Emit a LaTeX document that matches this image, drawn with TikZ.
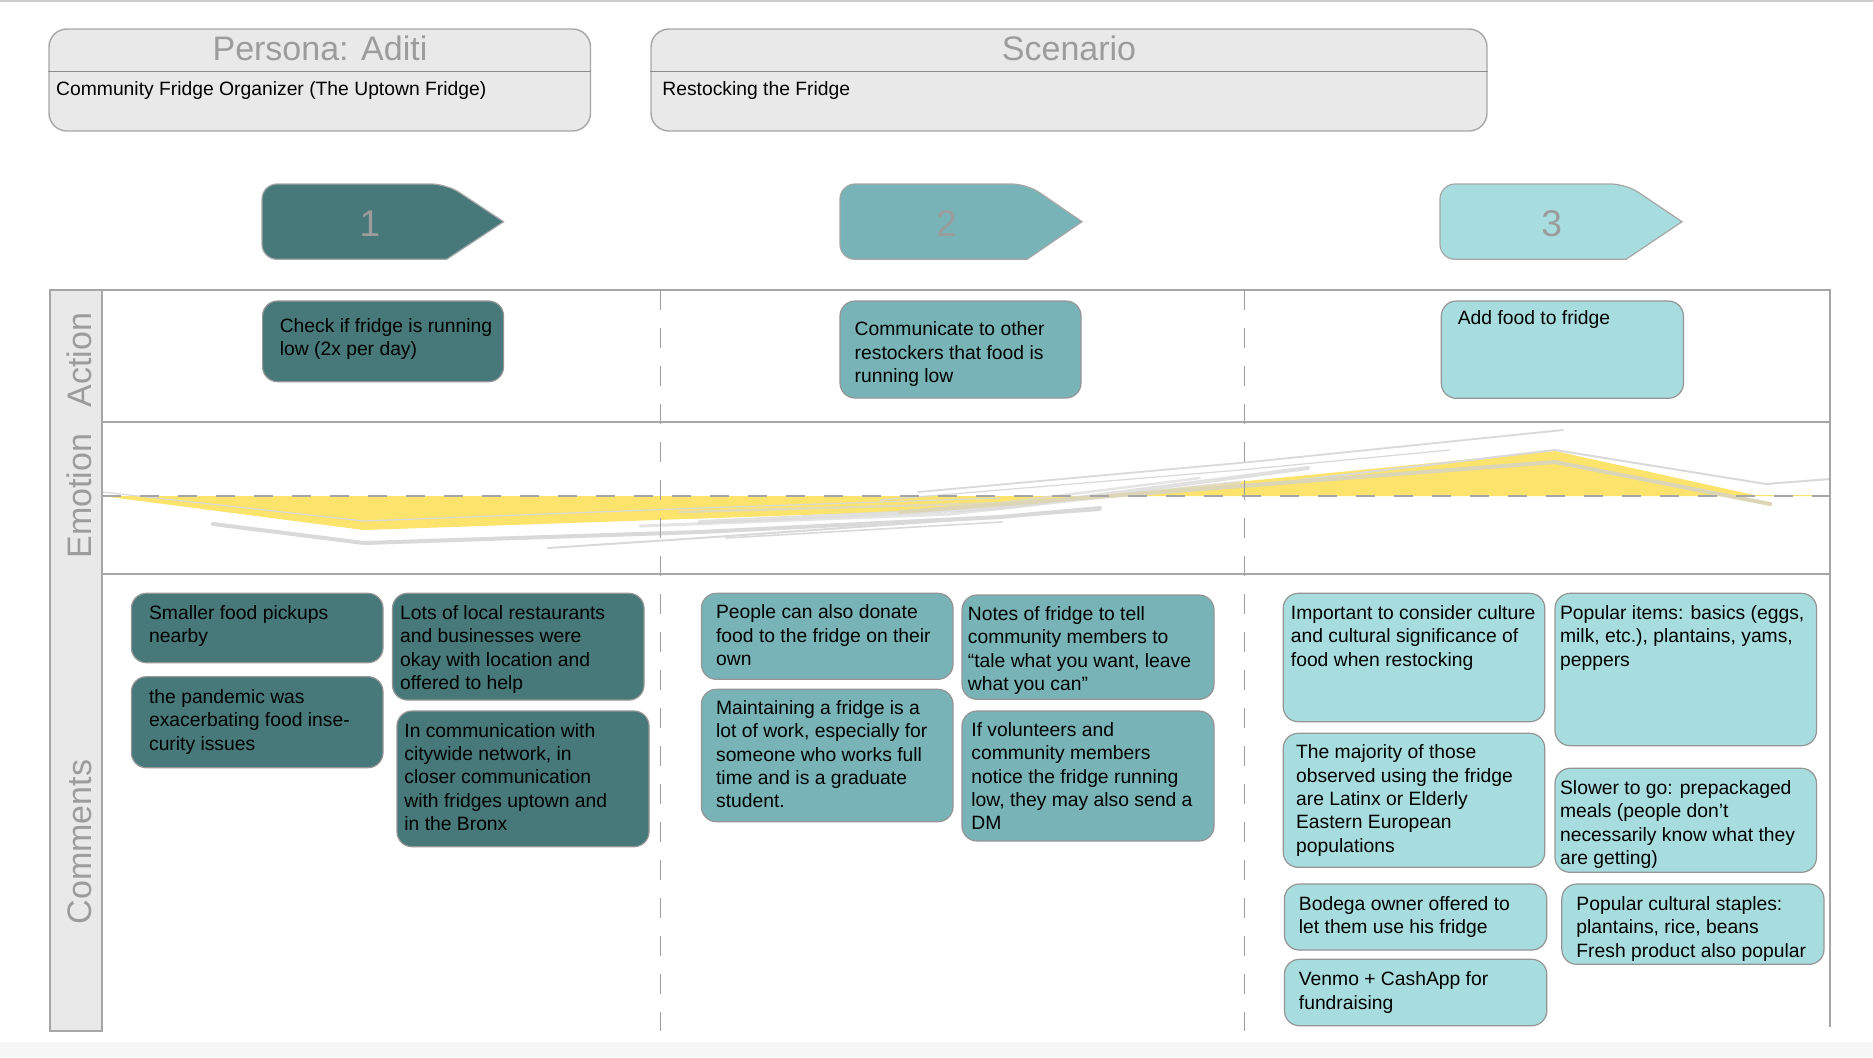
\documentclass[tikz,border=0pt]{standalone}
\usepackage{fontspec}
\setmainfont{Liberation Sans}
\usetikzlibrary{fit}
\definecolor{tdark}{HTML}{47787A}
\definecolor{tmid}{HTML}{78B4B7}
\definecolor{tlight}{HTML}{A8DDE0}
\definecolor{lblgray}{HTML}{9C9C9C}
\definecolor{linegray}{HTML}{A6A6A6}
\definecolor{boxborder}{HTML}{959595}
\definecolor{panelgray}{HTML}{E9E9E9}
\definecolor{emoyellow}{HTML}{FCE36B}
\definecolor{sketch}{HTML}{D9D9D9}
\definecolor{sketchy}{HTML}{DCD6B6}
\definecolor{bottomstrip}{HTML}{F7F7F7}
\tikzset{
  cbox/.style={draw=boxborder, line width=0.6pt, rounded corners=7.5pt, inner sep=0pt},
  darkbox/.style={cbox, fill=tdark},
  midbox/.style={cbox, fill=tmid},
  lightbox/.style={cbox, fill=tlight},
  panel/.style={draw=linegray, line width=0.7pt, fill=panelgray, rounded corners=9pt, inner sep=0pt},
  txt/.style={inner sep=0pt, anchor=north west, align=left, yshift=7.72pt,
    font=\fontsize{9.65pt}{11.65pt}\selectfont, text=black},
  ttl/.style={inner sep=0pt, anchor=base, text=lblgray, font=\fontsize{17pt}{20pt}\selectfont},
  num/.style={inner sep=0pt, anchor=base, text=lblgray, font=\fontsize{18.6pt}{22pt}\selectfont},
  gridline/.style={draw=linegray, line width=1pt},
  vdash/.style={draw=lblgray, line width=0.7pt, dash pattern=on 10pt off 9pt},
  chev/.style={draw=linegray, line width=0.6pt},
  skl/.style={draw=sketch, line cap=round, line join=round},
}
\newcommand\mybox[6]{\node[#2, fit={(#3,#4) (#5,#6)}] (#1) {};}
\newcommand\mytext[4]{\node[txt] (#1) at (#2,#3) {\rule{0pt}{7.72pt}#4};}
\begin{document}
\begin{tikzpicture}[x=0.5pt, y=-0.5pt]
\useasboundingbox (0,0) rectangle (1873,1057);
\fill[white] (0,0) rectangle (1873,1057);
\fill[bottomstrip] (0,1042) rectangle (1873,1057);
\draw[draw=black!20, line width=1pt] (0,1) -- (1873,1);

% header panels
\node[panel, fit={(49,29) (590.5,131)}] (persona) {};
\draw[draw=black!45, line width=0.7pt] (persona.west |- 0,71.5) -- (persona.east |- 0,71.5);
\node[ttl] (personattl) at (320,60) {Persona: Aditi};
\node[txt] (personasub) at (55.8,95.3) {\rule{0pt}{7.72pt}Community Fridge Organizer (The Uptown Fridge)};
\node[panel, fit={(651,29) (1487,131)}] (scenario) {};
\draw[draw=black!45, line width=0.7pt] (scenario.west |- 0,71.5) -- (scenario.east |- 0,71.5);
\node[ttl] (scenariottl) at (1069,60) {Scenario};
\node[txt] (scenariosub) at (662,95.3) {\rule{0pt}{7.72pt}Restocking the Fridge};

% chevrons
\path[chev, fill=tdark] (503.6,221.7) -- (446.6,259.3)
  {[rounded corners=7.5pt] -- (262,259.3) -- (262,184) -- (446.6,184)} -- cycle;
\node[num] (n1) at (370,236) {1};
\path[chev, fill=tmid] (1082,221.7) -- (1027,259.3)
  {[rounded corners=7.5pt] -- (840,259.3) -- (840,184) -- (1027,184)} -- cycle;
\node[num] (n2) at (946.5,236) {2};
\path[chev, fill=tlight] (1682,221.7) -- (1626,259.3)
  {[rounded corners=7.5pt] -- (1440,259.3) -- (1440,184) -- (1626,184)} -- cycle;
\node[num] (n3) at (1551.8,236) {3};

% emotion curve
\fill[emoyellow] (102,496) -- (364,530) -- (950,510) -- (1555,451) -- (1754,495)
  -- (1830,495) -- (1830,496) -- cycle;
\draw[skl, line width=2pt] (213,524) -- (364,543) -- (700,532) -- (1000,517) -- (1100,508);
\draw[skl, line width=1pt] (548,548) -- (700,538) -- (1100,510);
\draw[skl, line width=0.8pt] (726,538) -- (1002,522);
\draw[skl, line width=0.6pt] (102,492) -- (364,521) -- (700,508) -- (1000,498);
\draw[skl, line width=2pt, draw opacity=0.8] (700,522) -- (1000,508) -- (1308,468);
\draw[skl, line width=1.5pt, draw opacity=0.7] (640,526) -- (950,514) -- (1240,482);
\draw[skl, line width=1.2pt, draw opacity=0.7] (680,512) -- (1000,503) -- (1200,478);
\draw[skl, line width=0.9pt] (918,492) -- (1250,462) -- (1563,430);
\draw[skl, line width=0.6pt] (880,500) -- (1240,470) -- (1450,450);
\draw[skl, line width=1pt] (1300,480) -- (1555,450) -- (1766,484) -- (1830,479);
\draw[skl, draw=sketchy, line width=2pt] (900,512) -- (1555,462) -- (1770,504);

% grid
\draw[vdash] (660.7,290) -- (660.7,1031);
\draw[vdash] (1244.5,290) -- (1244.5,1031);
\draw[draw=linegray, line width=1.4pt, dash pattern=on 9.5pt off 9.5pt] (102,496) -- (1830,496);
\draw[gridline] (50,290) -- (1830,290) -- (1830,1027);
\draw[gridline] (102,422) -- (1830,422);
\draw[gridline] (102,574) -- (1830,574);
\node[draw=linegray, line width=1pt, fill=panelgray, inner sep=0pt, fit={(50,290) (102,1031)}] (lblcol) {};
\node[ttl, rotate=90] (labaction) at (91,360) {Action};
\node[ttl, rotate=90] (labemotion) at (91,496) {Emotion};
\node[ttl, rotate=90] (labcomments) at (91,842) {Comments};

% action boxes
\mybox{a1}{darkbox}{262.6}{301}{503.6}{381.7}
\mytext{a1t}{279.4}{331.7}{Check if fridge is running\\low (2x per day)}
\mybox{a2}{midbox}{840}{301}{1081}{398}
\mytext{a2t}{854.3}{335.5}{Communicate to other\\restockers that food is\\running low}
\mybox{a3}{lightbox}{1441.3}{301}{1683.4}{398.3}
\mytext{a3t}{1457.4}{324}{Add food to fridge}

% comment boxes, column 1
\mybox{c1a}{darkbox}{131.4}{593.3}{383}{662.7}
\mytext{c1at}{148.7}{619}{Smaller food pickups\\nearby}
\mybox{c1b}{darkbox}{131.4}{676.7}{383}{767.7}
\mytext{c1bt}{148.7}{703}{the pandemic was\\exacerbating food inse-\\curity issues}
\mybox{c1c}{darkbox}{392.5}{593.3}{644}{700}
\mytext{c1ct}{399.8}{619}{Lots of local restaurants\\and businesses were\\okay with location and\\offered to help}
\mybox{c1d}{darkbox}{397}{711}{649}{846.7}
\mytext{c1dt}{404}{736.7}{In communication with\\citywide network, in\\closer communication\\with fridges uptown and\\in the Bronx}

% column 2
\mybox{c2a}{midbox}{701.4}{593.3}{953}{679.3}
\mytext{c2at}{715.7}{618.5}{People can also donate\\food to the fridge on their\\own}
\mybox{c2b}{midbox}{701.4}{689.3}{953}{821.7}
\mytext{c2bt}{715.7}{714}{Maintaining a fridge is a\\lot of work, especially for\\someone who works full\\time and is a graduate\\student.}
\mybox{c2c}{midbox}{962}{595}{1214}{699.3}
\mytext{c2ct}{967.5}{620}{Notes of fridge to tell\\community members to\\“tale what you want, leave\\what you can”}
\mybox{c2d}{midbox}{962}{711}{1214}{841}
\mytext{c2dt}{971}{736}{If volunteers and\\community members\\notice the fridge running\\low, they may also send a\\DM}

% column 3
\mybox{c3a}{lightbox}{1283.2}{593.3}{1544.8}{721.7}
\mytext{c3at}{1290.5}{619}{Important to consider culture\\and cultural significance of\\food when restocking}
\mybox{c3b}{lightbox}{1555}{593.3}{1816.5}{745.7}
\mytext{c3bt}{1559.7}{619}{Popular items: basics (eggs,\\milk, etc.), plantains, yams,\\peppers}
\mybox{c3c}{lightbox}{1283.2}{733.3}{1544.8}{867.3}
\mytext{c3ct}{1295.7}{758.5}{The majority of those\\observed using the fridge\\are Latinx or Elderly\\Eastern European\\populations}
\mybox{c3d}{lightbox}{1555}{768.3}{1816.5}{872.3}
\mytext{c3dt}{1559.7}{794}{Slower to go: prepackaged\\meals (people don’t\\necessarily know what they\\are getting)}
\mybox{c3e}{lightbox}{1284.4}{884}{1546.8}{950}
\mytext{c3et}{1298.5}{910}{Bodega owner offered to\\let them use his fridge}
\mybox{c3f}{lightbox}{1284.4}{959.3}{1546.8}{1025.7}
\mytext{c3ft}{1298.5}{985.5}{Venmo + CashApp for\\fundraising}
\mybox{c3g}{lightbox}{1561.8}{884}{1824}{964.3}
\mytext{c3gt}{1576}{910}{Popular cultural staples:\\plantains, rice, beans\\Fresh product also popular}
\end{tikzpicture}
\end{document}
